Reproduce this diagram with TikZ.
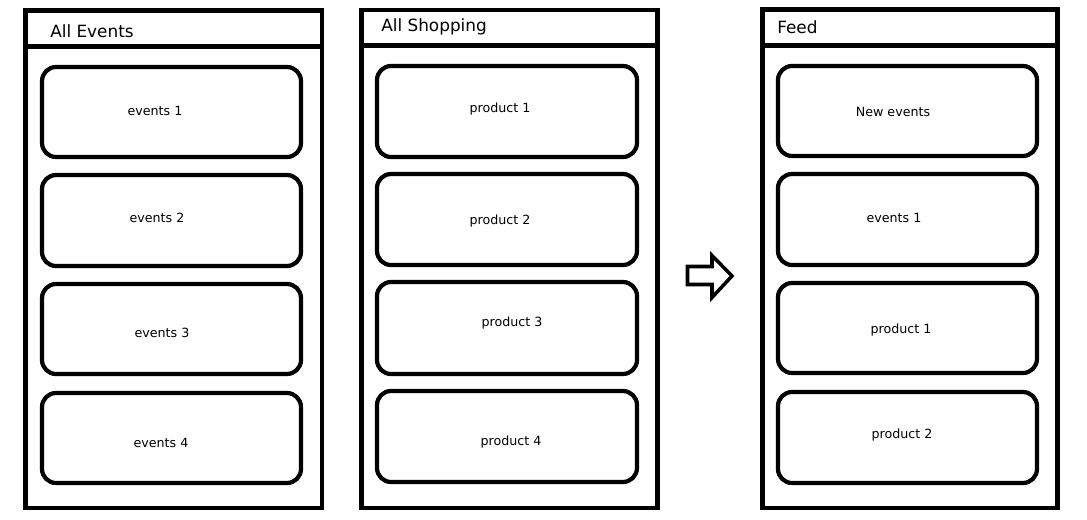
\documentclass[tikz,border=0pt]{standalone}
\usepackage{fontspec}
\setmainfont{DejaVu Sans}
\usetikzlibrary{positioning}
\tikzset{
  panel/.style={draw, line width=3.5pt},
  card/.style={draw, line width=3pt, rounded corners=10pt},
  headtext/.style={font=\fontsize{12}{14}\selectfont, anchor=west, inner sep=0pt},
  cardtext/.style={font=\fontsize{9}{10}\selectfont, inner sep=0pt},
  bigarrow/.style={draw, line width=2.5pt, line join=miter}
}
\begin{document}
\begin{tikzpicture}[x=0.025cm, y=-0.025cm]
\useasboundingbox (0,0) rectangle (1087,520);

% All Events
\draw[panel] (25.5,10.5) rectangle (322,508);
\draw[panel] (25.5,46.5) -- (322,46.5);
\node[headtext] (eventsHead) at (50,31) {All Events};
\foreach \top/\bot in {67/157,175/266,284/374,393/483}
  \draw[card] (42,\top) rectangle (301,\bot);
\node[cardtext] (eventsA) at (155,111) {events 1};
\node[cardtext] (eventsB) at (157,218) {events 2};
\node[cardtext] (eventsC) at (162,333) {events 3};
\node[cardtext] (eventsD) at (161,443) {events 4};

% All Shopping
\draw[panel] (361.5,10) rectangle (657.5,508);
\draw[panel] (361.5,45.5) -- (657.5,45.5);
\node[headtext] (shopHead) at (381,27) {All Shopping};
\foreach \top/\bot in {66/157,174/265,282/374,391/482}
  \draw[card] (377,\top) rectangle (637,\bot);
\node[cardtext] (productA) at (500,109) {product 1};
\node[cardtext] (productB) at (500,221) {product 2};
\node[cardtext] (productC) at (512,323) {product 3};
\node[cardtext] (productD) at (511,442) {product 4};

% arrow
\draw[bigarrow] (687.5,266.5) -- (712,266.5) -- (712,255.5) -- (732,276)
  -- (712,297.5) -- (712,284.5) -- (687.5,284.5) -- cycle;

% Feed
\draw[panel] (762.5,9.5) rectangle (1057.5,508);
\draw[panel] (762.5,45.5) -- (1057.5,45.5);
\node[headtext] (feedHead) at (777,27) {Feed};
\foreach \top/\bot in {66/156,174/265,283/373,392/483}
  \draw[card] (778,\top) rectangle (1037,\bot);
\node[cardtext] (feedA) at (893,112) {New events};
\node[cardtext] (feedB) at (894,218) {events 1};
\node[cardtext] (feedC) at (901,330) {product 1};
\node[cardtext] (feedD) at (902,435) {product 2};
\end{tikzpicture}
\end{document}
